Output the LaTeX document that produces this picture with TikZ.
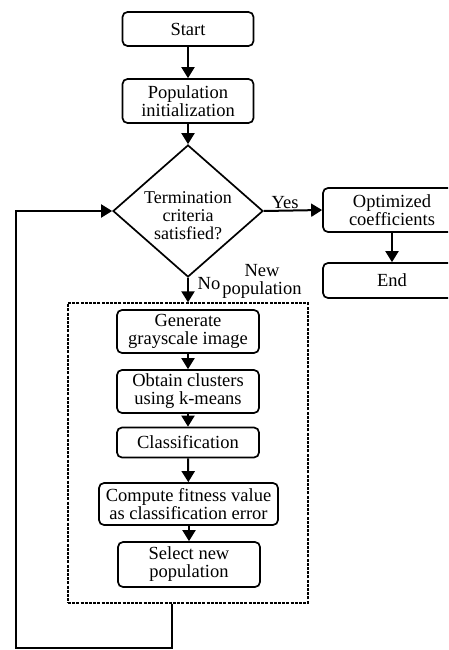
\documentclass[tikz,border=0pt]{standalone}
\usepackage{fontspec}
\setmainfont{Liberation Serif}
\usetikzlibrary{arrows.meta,shapes.geometric}
\begin{document}
\begin{tikzpicture}[x=1pt,y=-1pt,
  font=\fontsize{18.5}{18}\selectfont,
  box/.style={draw,line width=1.7pt,rounded corners=5pt,align=center,inner sep=0pt},
  decision/.style={draw,diamond,line width=1.7pt,align=center,inner sep=0pt,aspect=1.136,minimum width=150pt,minimum height=132pt},
  dashbox/.style={draw,line width=1.3pt,dash pattern=on 3pt off 1.2pt,inner sep=0pt},
  arr/.style={line width=2pt,-{Triangle[width=13pt,length=11pt]}},
  lbl/.style={inner sep=0pt,align=center}]
\clip (0,0) rectangle (448,650);
\fill[white] (0,0) rectangle (448,650);
\node[box,minimum width=131pt,minimum height=34pt] (start) at (188,29) {Start};
\node[box,minimum width=131pt,minimum height=44pt] (init) at (188,101) {Population\\initialization};
\node[decision] (dia) at (188,211) {};
\node[lbl,font=\fontsize{18}{18}\selectfont] (diatext) at (188,216) {Termination\\criteria\\satisfied?};
\node[box,minimum width=138pt,minimum height=44pt] (opt) at (392,210) {Optimized\\coefficients};
\node[box,minimum width=138pt,minimum height=35pt] (end) at (392,280.5) {End};
\node[dashbox,minimum width=240pt,minimum height=300pt] (grp) at (188,453) {};
\node[box,minimum width=142pt,minimum height=43pt] (gen) at (188,331.5) {Generate\\grayscale image};
\node[box,minimum width=142pt,minimum height=43pt] (obt) at (188,391.5) {Obtain clusters\\using k-means};
\node[box,minimum width=142pt,minimum height=30pt] (cls) at (188,442.5) {Classification};
\node[box,minimum width=179pt,minimum height=42pt] (cmp) at (188.5,504) {Compute fitness value\\as classification error};
\node[box,minimum width=142pt,minimum height=45pt] (sel) at (189,564.5) {Select new\\population};
\node[lbl] (yes) at (285,203) {Yes};
\node[lbl] (no) at (209,284) {No};
\node[lbl] (newpop) at (262,281) {New\\population};
\coordinate (c1) at (16,648);
\draw[arr] (start) -- (init);
\draw[arr] (init) -- (dia.north);
\draw[arr] (dia.east) -- (opt.west);
\draw[arr] (opt) -- (end);
\draw[arr] (dia.south) -- (grp.north);
\draw[arr] (gen) -- (obt);
\draw[arr] (obt) -- (cls);
\draw[arr] (cls) -- (cmp);
\draw[arr] (cmp.south -| sel) -- (sel);
\draw[arr] ([xshift=-16pt]grp.south) |- (c1) |- (dia.west);
\end{tikzpicture}
\end{document}
